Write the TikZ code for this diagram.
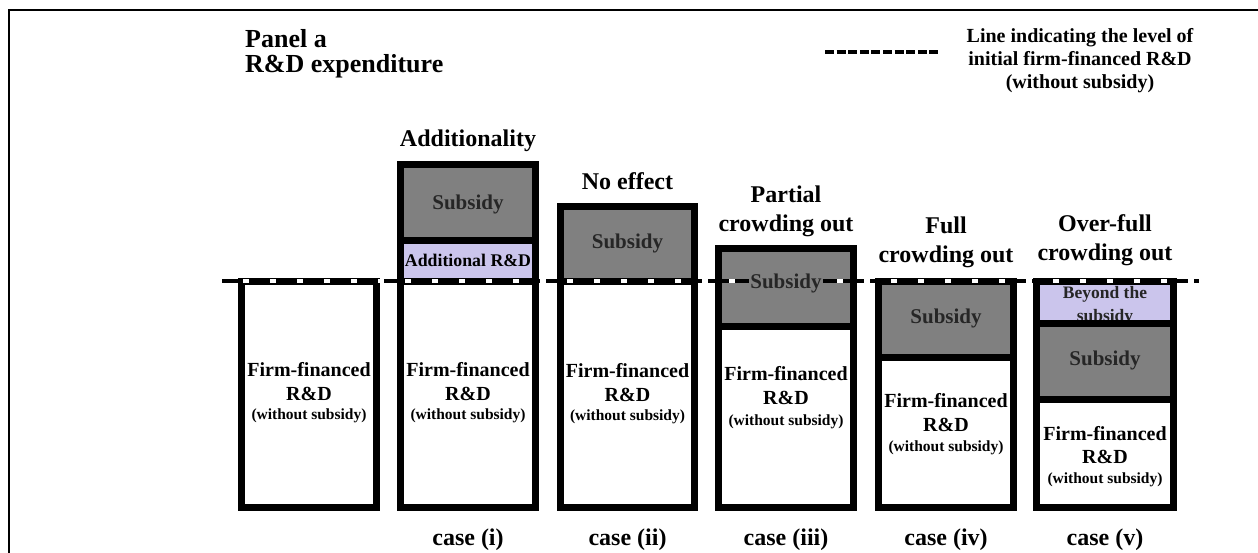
\documentclass[tikz,border=0pt]{standalone}
\usepackage{fontspec}
\setmainfont{Liberation Serif}
\definecolor{subgray}{HTML}{808080}
\definecolor{lav}{HTML}{CBC5EC}
\begin{document}
\begin{tikzpicture}[x=1pt,y=-1pt,
  txt/.style={inner sep=0pt, anchor=base, font=\bfseries\fontsize{#1}{#1}\selectfont},
  bd/.style={line width=7pt, draw=black},
  sub/.style={fill=subgray},
  add/.style={fill=lav}]
\useasboundingbox (0,0) rectangle (1258,552);
\fill[white] (0,0) rectangle (1258,552);
% frame
\draw[line width=2pt] (9,560) -- (9,10) -- (1262,10);
% titles
\node[txt=26, anchor=base west] (pa) at (245,47) {Panel a};
\node[txt=26, anchor=base west] (rd) at (245,72) {R\&D expenditure};
% legend
\coordinate (lgA) at (825,52);
\coordinate (lgB) at (940,52);
\draw[line width=4pt, dash pattern=on 9pt off 2.6pt] (lgA) -- (lgB);
\node[txt=20] (lg1) at (1080,42) {Line indicating the level of};
\node[txt=20] (lg2) at (1080,65) {initial firm-financed R\&D};
\node[txt=20] (lg3) at (1080,88) {(without subsidy)};
% fills
\fill[sub] (400.5,164.5) rectangle (535.5,240.5);
\fill[add] (400.5,240.5) rectangle (535.5,281);
\fill[sub] (560.5,206.5) rectangle (694.5,281);
\fill[sub] (718.5,248.5) rectangle (853.5,326);
\fill[sub] (878.5,281) rectangle (1013.5,357);
\fill[add] (1036.5,281) rectangle (1173.5,323);
\fill[sub] (1036.5,323) rectangle (1173.5,399);
% headings
\node[txt=24] (h1) at (468,146) {Additionality};
\node[txt=24] (h2) at (627.5,189) {No effect};
\node[txt=24] (h3a) at (786,202) {Partial};
\node[txt=24] (h3b) at (786,231) {crowding out};
\node[txt=24] (h4a) at (946,233) {Full};
\node[txt=24] (h4b) at (946,262) {crowding out};
\node[txt=24] (h5a) at (1105,231) {Over-full};
\node[txt=24] (h5b) at (1105,260) {crowding out};
% subsidy texts
\node[txt=21, text=black!85] (s1) at (468,209) {Subsidy};
\node[txt=21, text=black!85] (s2) at (627.5,248) {Subsidy};
\node[txt=21, text=black!85] (s4) at (946,323) {Subsidy};
\node[txt=21, text=black!85] (s5) at (1105,365) {Subsidy};
\node[txt=17.8] (a1) at (468,266) {Additional R\&D};
\node[txt=17.5, text=black!85] (b5a) at (1105,298) {Beyond the};
\node[txt=17.5, text=black!85] (b5b) at (1105,321) {subsidy};
% firm-financed texts
\foreach \cx/\ya/\yb/\yc/\nm in {309/376/400/419/f0, 468/376/400/419/f1, 627.5/377/401/420/f2, 786/380/404/425/f3, 946/407/431/451/f4, 1105/440/463/483/f5}{
  \node[txt=20] (\nm a) at (\cx,\ya) {Firm-financed};
  \node[txt=20] (\nm b) at (\cx,\yb) {R\&D};
  \node[txt=15.5] (\nm c) at (\cx,\yc) {(without subsidy)};
}
% borders
\draw[bd] (241.5,281) rectangle (376.5,507.5);
\draw[bd] (400.5,164.5) rectangle (535.5,507.5);
\draw[bd] (400.5,240.5) -- (535.5,240.5);
\draw[bd] (400.5,281) -- (535.5,281);
\draw[bd] (560.5,206.5) rectangle (694.5,507.5);
\draw[bd] (560.5,281) -- (694.5,281);
\draw[bd] (718.5,248.5) rectangle (853.5,507.5);
\draw[bd] (718.5,326) -- (853.5,326);
\draw[bd] (878.5,281) rectangle (1013.5,507.5);
\draw[bd] (878.5,357) -- (1013.5,357);
\draw[bd] (1036.5,281) rectangle (1173.5,507.5);
\draw[bd] (1036.5,323) -- (1173.5,323);
\draw[bd] (1036.5,399) -- (1173.5,399);
% level line
\coordinate (Ls) at (222,281);
\coordinate (Le) at (1199,281);
\draw[white, line width=3.5pt] (Ls) -- (Le);
\draw[black, line width=3.5pt, dash pattern=on 21pt off 6pt] (Ls) -- (Le);
\node[txt=21, text=black!85, fill=subgray, inner xsep=1pt, inner ysep=2pt] (s3) at (786,288) {Subsidy};
% case labels
\node[txt=24] (c1) at (468,545) {case (i)};
\node[txt=24] (c2) at (627.5,545) {case (ii)};
\node[txt=24] (c3) at (786,545) {case (iii)};
\node[txt=24] (c4) at (946,545) {case (iv)};
\node[txt=24] (c5) at (1105,545) {case (v)};
\end{tikzpicture}
\end{document}
